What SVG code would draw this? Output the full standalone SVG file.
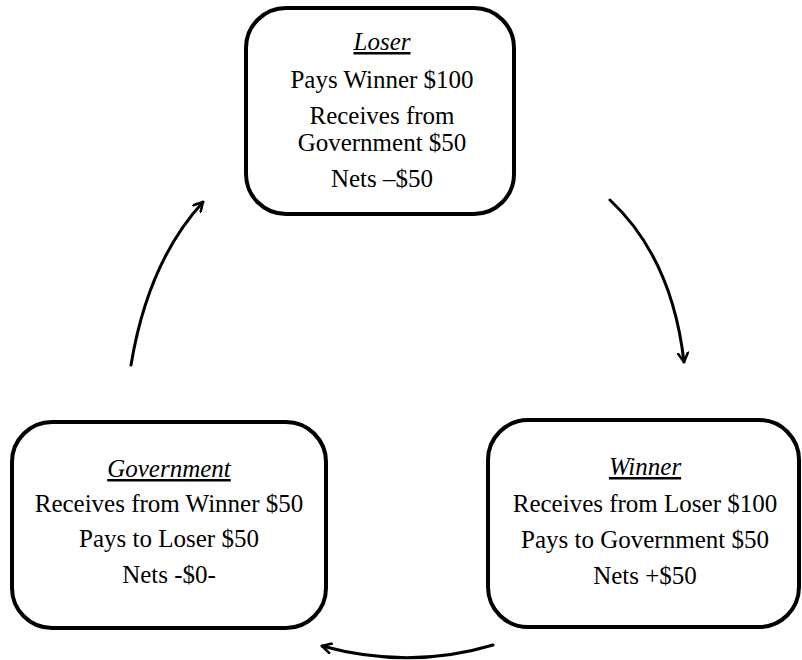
<svg xmlns="http://www.w3.org/2000/svg" width="802" height="660" viewBox="0 0 802 660">
<defs>
<marker id="ah" viewBox="0 0 12 12" refX="10" refY="6" markerWidth="12" markerHeight="12" markerUnits="userSpaceOnUse" orient="auto">
<path d="M1,1 L10,6 L1,11" fill="none" stroke="#000" stroke-width="2.5" stroke-linecap="round" stroke-linejoin="round"/>
</marker>
</defs>
<rect width="802" height="660" fill="#fff"/>
<g id="connectors" fill="none" stroke="#000" stroke-width="3" stroke-linecap="round">
<path d="M131,365 Q148,262 203,202" marker-end="url(#ah)"/>
<path d="M610,200 Q672,258 684,362" marker-end="url(#ah)"/>
<path d="M493,645 Q410,670 322,646" marker-end="url(#ah)"/>
</g>
<g id="loser">
<rect x="246" y="8" width="268" height="206" rx="40" fill="#fff" stroke="#000" stroke-width="4"/>
<text x="382" y="50" font-family="Liberation Serif" font-size="25" font-style="italic" text-decoration="underline" text-anchor="middle">Loser</text>
<text x="382" y="88" font-family="Liberation Serif" font-size="25" text-anchor="middle">Pays Winner $100</text>
<text x="382" y="124" font-family="Liberation Serif" font-size="25" text-anchor="middle">Receives from</text>
<text x="382" y="151" font-family="Liberation Serif" font-size="25" text-anchor="middle">Government $50</text>
<text x="382" y="187" font-family="Liberation Serif" font-size="25" text-anchor="middle">Nets –$50</text>
</g>
<g id="government">
<rect x="12" y="422" width="314" height="206" rx="40" fill="#fff" stroke="#000" stroke-width="4"/>
<text x="169" y="477" font-family="Liberation Serif" font-size="25" font-style="italic" text-decoration="underline" text-anchor="middle">Government</text>
<text x="169" y="512" font-family="Liberation Serif" font-size="25" text-anchor="middle">Receives from Winner $50</text>
<text x="169" y="547" font-family="Liberation Serif" font-size="25" text-anchor="middle">Pays to Loser $50</text>
<text x="169" y="583" font-family="Liberation Serif" font-size="25" text-anchor="middle">Nets -$0-</text>
</g>
<g id="winner">
<rect x="488" y="420" width="311" height="207" rx="40" fill="#fff" stroke="#000" stroke-width="4"/>
<text x="645" y="475" font-family="Liberation Serif" font-size="25" font-style="italic" text-decoration="underline" text-anchor="middle">Winner</text>
<text x="645" y="512" font-family="Liberation Serif" font-size="25" text-anchor="middle">Receives from Loser $100</text>
<text x="645" y="548" font-family="Liberation Serif" font-size="25" text-anchor="middle">Pays to Government $50</text>
<text x="645" y="584" font-family="Liberation Serif" font-size="25" text-anchor="middle">Nets +$50</text>
</g>
</svg>
